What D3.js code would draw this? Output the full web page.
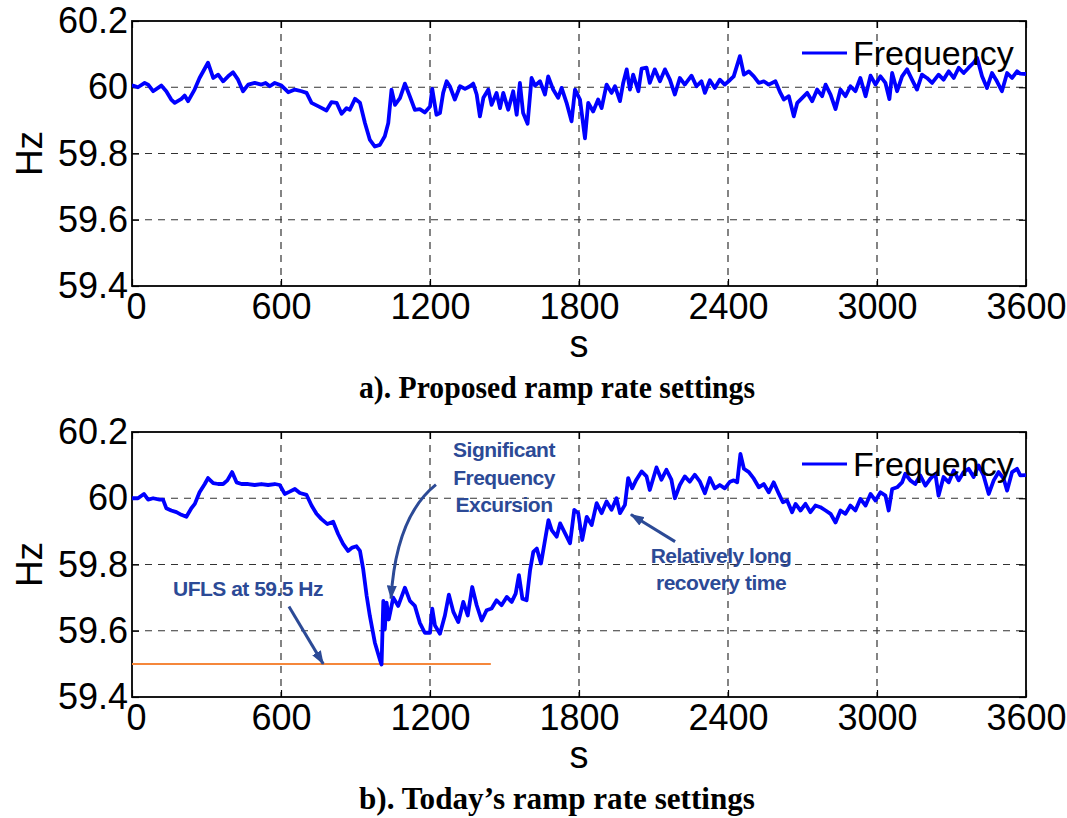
<!DOCTYPE html>
<html>
<head>
<meta charset="utf-8">
<script src="https://cdn.jsdelivr.net/npm/d3@7"></script>
<style>
  body { margin: 0; background: #fff; }
  svg { display: block; }
</style>
</head>
<body>
<div id="chart"></div>
<script>
// axis ticks
const xTicks = [0, 600, 1200, 1800, 2400, 3000, 3600];
const yTicks = [59.4, 59.6, 59.8, 60, 60.2];

// a) proposed ramp rate settings: [seconds, Hz]
const freqProposed = [
  [0,60.005],[4,60.005],[24,60.000],[51,60.013],[65,60.008],[85,59.988],[118,60.005],[138,59.988],
  [158,59.963],[172,59.953],[199,59.965],[212,59.975],[226,59.958],[252,59.993],[272,60.028],[306,60.074],
  [327,60.028],[347,60.038],[367,60.018],[387,60.033],[407,60.045],[427,60.023],[447,59.988],[468,60.008],
  [494,60.013],[521,60.008],[538,60.013],[555,60.003],[575,60.013],[602,60.005],[629,59.985],[656,59.993],
  [683,59.988],[703,59.983],[723,59.953],[757,59.940],[783,59.930],[803,59.955],[824,59.953],[844,59.920],
  [864,59.937],[877,59.932],[898,59.965],[918,59.953],[938,59.892],[958,59.841],[978,59.821],[998,59.826],
  [1018,59.852],[1032,59.892],[1045,59.993],[1059,59.947],[1079,59.967],[1099,60.011],[1119,59.972],[1139,59.932],
  [1159,59.934],[1179,59.924],[1200,59.942],[1209,59.995],[1226,59.917],[1240,59.922],[1253,59.983],[1267,60.018],
  [1280,60.003],[1300,59.963],[1321,60.003],[1341,59.995],[1361,60.003],[1374,60.011],[1388,59.978],[1401,59.912],
  [1415,59.968],[1435,59.993],[1448,59.947],[1468,59.983],[1482,59.937],[1495,59.983],[1515,59.932],[1535,59.988],
  [1549,59.917],[1562,60.013],[1575,59.922],[1593,59.890],[1609,60.028],[1623,60.005],[1643,60.018],[1663,59.978],
  [1676,60.033],[1696,59.993],[1716,59.968],[1730,59.998],[1750,59.953],[1770,59.897],[1784,59.993],[1804,59.963],
  [1824,59.846],[1837,59.953],[1857,59.927],[1877,59.963],[1891,59.937],[1911,60.008],[1931,59.983],[1945,60.003],
  [1965,59.958],[1978,60.013],[1992,60.054],[2005,59.993],[2018,60.038],[2039,59.988],[2052,60.056],[2072,60.059],
  [2085,60.013],[2105,60.054],[2126,60.018],[2146,60.054],[2166,60.023],[2186,59.978],[2206,60.028],[2226,60.008],
  [2253,60.035],[2273,60.003],[2293,60.018],[2307,59.983],[2327,60.021],[2347,59.998],[2367,60.023],[2387,60.008],
  [2408,60.022],[2423,60.033],[2448,60.094],[2464,60.038],[2484,60.048],[2504,60.033],[2524,60.013],[2544,60.018],
  [2564,60.008],[2591,60.018],[2611,59.983],[2625,59.963],[2645,59.973],[2665,59.912],[2679,59.953],[2699,59.968],
  [2719,59.983],[2739,59.958],[2759,59.993],[2779,59.973],[2793,60.008],[2813,59.978],[2833,59.934],[2853,59.993],
  [2873,59.973],[2893,60.003],[2913,59.988],[2933,60.028],[2954,59.973],[2974,60.035],[2994,60.008],[3014,60.033],
  [3034,60.013],[3050,59.964],[3061,60.043],[3081,59.988],[3101,60.033],[3121,60.054],[3141,60.023],[3161,59.993],
  [3181,60.038],[3201,60.028],[3222,60.013],[3248,60.038],[3268,60.023],[3289,60.048],[3309,60.028],[3329,60.059],
  [3349,60.043],[3369,60.059],[3389,60.074],[3403,60.089],[3423,60.033],[3443,59.998],[3463,60.043],[3483,60.018],
  [3503,59.988],[3524,60.043],[3544,60.028],[3564,60.048],[3577,60.041],[3600,60.040]
];

// b) today's ramp rate settings: [seconds, Hz]
const freqToday = [
  [0,60.000],[4,60.000],[24,60.000],[48,60.013],[65,59.996],[85,60.000],[111,59.996],[125,59.996],
  [138,59.970],[158,59.963],[179,59.958],[199,59.950],[219,59.944],[239,59.970],[253,59.983],[272,60.018],
  [293,60.043],[306,60.061],[327,60.046],[347,60.043],[367,60.043],[384,60.054],[403,60.079],[421,60.048],
  [441,60.043],[468,60.043],[494,60.040],[521,60.043],[548,60.040],[575,60.043],[595,60.040],[615,60.013],
  [635,60.020],[656,60.028],[676,60.016],[703,60.010],[723,59.978],[743,59.953],[763,59.937],[787,59.922],
  [810,59.929],[830,59.892],[850,59.862],[870,59.841],[887,59.851],[904,59.855],[918,59.841],[931,59.786],
  [945,59.705],[958,59.644],[978,59.564],[998,59.513],[1005,59.498],[1012,59.690],[1018,59.604],[1025,59.685],
  [1034,59.634],[1052,59.700],[1072,59.675],[1099,59.730],[1119,59.690],[1139,59.675],[1159,59.624],[1179,59.594],
  [1200,59.594],[1209,59.667],[1220,59.616],[1240,59.591],[1260,59.646],[1276,59.709],[1294,59.657],[1314,59.626],
  [1334,59.687],[1352,59.646],[1370,59.732],[1388,59.677],[1408,59.631],[1428,59.662],[1448,59.667],[1468,59.692],
  [1488,59.677],[1509,59.702],[1529,59.687],[1545,59.712],[1558,59.768],[1572,59.697],[1589,59.692],[1603,59.783],
  [1616,59.838],[1630,59.848],[1647,59.803],[1661,59.864],[1677,59.934],[1690,59.904],[1710,59.884],[1724,59.924],
  [1744,59.894],[1764,59.864],[1781,59.965],[1797,59.955],[1813,59.874],[1831,59.944],[1851,59.919],[1871,59.985],
  [1891,59.955],[1911,59.990],[1931,59.965],[1951,60.000],[1965,59.955],[1985,59.980],[1998,60.061],[2014,60.030],
  [2031,60.056],[2052,60.081],[2072,60.066],[2085,60.025],[2112,60.093],[2132,60.056],[2152,60.086],[2172,60.056],
  [2186,60.000],[2206,60.040],[2226,60.066],[2246,60.050],[2266,60.071],[2287,60.050],[2307,60.015],[2327,60.061],
  [2347,60.030],[2367,60.040],[2387,60.030],[2408,60.050],[2423,60.054],[2437,60.048],[2450,60.134],[2464,60.089],
  [2484,60.079],[2504,60.059],[2524,60.033],[2544,60.043],[2564,60.018],[2584,60.048],[2605,60.013],[2621,59.988],
  [2638,59.993],[2658,59.958],[2672,59.983],[2692,59.963],[2712,59.983],[2732,59.958],[2752,59.978],[2772,59.973],
  [2793,59.963],[2813,59.953],[2833,59.927],[2853,59.963],[2873,59.953],[2893,59.978],[2913,59.963],[2933,59.998],
  [2954,59.978],[2974,60.013],[2994,59.993],[3014,60.018],[3034,60.008],[3047,59.963],[3061,60.028],[3081,60.033],
  [3101,60.048],[3114,60.074],[3134,60.054],[3154,60.043],[3174,60.069],[3195,60.038],[3215,60.059],[3235,60.074],
  [3248,60.008],[3268,60.064],[3289,60.048],[3309,60.084],[3329,60.054],[3349,60.079],[3369,60.089],[3389,60.064],
  [3409,60.099],[3429,60.069],[3450,60.013],[3470,60.054],[3490,60.079],[3510,60.059],[3524,60.023],[3544,60.079],
  [3564,60.089],[3577,60.069],[3600,60.070]
];

// UFLS threshold line (Hz) and its extent in seconds
const uflsLevel = 59.5;
const uflsSpan = [0, 1445];

const width = 1067, height = 818;
const plotLeft = 132, plotRight = 1026, plotH = 265;
const annoColor = "#2c4a96";
const font = "'Liberation Sans', Arial, sans-serif";

const svg = d3.select("#chart").append("svg")
  .attr("width", width)
  .attr("height", height)
  .style("font-family", font);

// arrow head marker
svg.append("defs").append("marker")
  .attr("id", "arrow")
  .attr("markerUnits", "userSpaceOnUse")
  .attr("markerWidth", 14).attr("markerHeight", 10)
  .attr("refX", 13).attr("refY", 5)
  .attr("orient", "auto")
  .append("path")
  .attr("d", "M0,0 L14,5 L0,10 Z")
  .attr("fill", annoColor);

const x = d3.scaleLinear().domain([0, 3600]).range([plotLeft, plotRight]);

function drawPanel(top, caption) {
  const y = d3.scaleLinear().domain([59.4, 60.2]).range([top + plotH, top]);
  const g = svg.append("g");

  // dashed grid
  g.selectAll(".vgrid")
    .data(xTicks.slice(1, -1))
    .enter().append("line")
    .attr("x1", d => x(d)).attr("x2", d => x(d))
    .attr("y1", top).attr("y2", top + plotH)
    .attr("stroke", "#333").attr("stroke-width", 1.2)
    .attr("stroke-dasharray", "7,6");

  g.selectAll(".hgrid")
    .data(yTicks.slice(1, -1))
    .enter().append("line")
    .attr("x1", plotLeft).attr("x2", plotRight)
    .attr("y1", d => y(d)).attr("y2", d => y(d))
    .attr("stroke", "#333").attr("stroke-width", 1.2)
    .attr("stroke-dasharray", "7,6");

  // axes (ticks pointing inward)
  const left = g.append("g")
    .attr("transform", `translate(${plotLeft},0)`)
    .call(d3.axisLeft(y).tickValues(yTicks).tickFormat(d3.format("~g"))
      .tickSizeInner(-7).tickSizeOuter(0).tickPadding(4));
  const bottom = g.append("g")
    .attr("transform", `translate(0,${top + plotH})`)
    .call(d3.axisBottom(x).tickValues(xTicks).tickFormat(d3.format("d"))
      .tickSizeInner(-7).tickSizeOuter(0).tickPadding(7));
  const topAx = g.append("g")
    .attr("transform", `translate(0,${top})`)
    .call(d3.axisTop(x).tickValues(xTicks).tickFormat("")
      .tickSizeInner(-7).tickSizeOuter(0));
  const rightAx = g.append("g")
    .attr("transform", `translate(${plotRight},0)`)
    .call(d3.axisRight(y).tickValues(yTicks).tickFormat("")
      .tickSizeInner(-7).tickSizeOuter(0));

  [left, bottom, topAx, rightAx].forEach(a => {
    a.select(".domain").remove();
    a.selectAll("line").attr("stroke", "#000").attr("stroke-width", 1.2);
    a.selectAll("text")
      .style("font-family", font)
      .style("font-size", "36px")
      .attr("fill", "#000");
  });
  // first x label sits a bit right of the corner, as in the original
  bottom.selectAll(".tick text").filter(d => d === 0).attr("dx", "4");

  // frame
  g.append("rect")
    .attr("x", plotLeft).attr("y", top)
    .attr("width", plotRight - plotLeft).attr("height", plotH)
    .attr("fill", "none").attr("stroke", "#000").attr("stroke-width", 1.8);

  // axis titles
  g.append("text")
    .attr("transform", `translate(42,${top + plotH / 2}) rotate(-90)`)
    .attr("text-anchor", "middle")
    .style("font-size", "37px")
    .text("Hz");

  g.append("text")
    .attr("x", (plotLeft + plotRight) / 2)
    .attr("y", top + plotH + 71)
    .attr("text-anchor", "middle")
    .style("font-size", "38px")
    .text("s");

  // caption
  g.append("text")
    .attr("x", 557)
    .attr("y", top + plotH + 112)
    .attr("text-anchor", "middle")
    .attr("textLength", 396)
    .attr("lengthAdjust", "spacingAndGlyphs")
    .style("font-family", "'Liberation Serif', 'Times New Roman', serif")
    .style("font-weight", "bold")
    .style("font-size", "31px")
    .text(caption);

  return { g, y };
}

function drawSeries(panel, data) {
  const line = d3.line()
    .x(d => x(d[0]))
    .y(d => panel.y(d[1]));
  panel.g.append("path")
    .datum(data)
    .attr("d", line)
    .attr("fill", "none")
    .attr("stroke", "#0000ff")
    .attr("stroke-width", 3.8)
    .attr("stroke-linejoin", "round");
}

function drawLegend(panel, top) {
  panel.g.append("line")
    .attr("x1", 802).attr("x2", 847)
    .attr("y1", top + 32).attr("y2", top + 32)
    .attr("stroke", "#0000ff").attr("stroke-width", 3);
  panel.g.append("text")
    .attr("x", 853).attr("y", top + 44)
    .style("font-size", "34px")
    .text("Frequency");
}

// ---- panel a ----
const topA = 21;
const pa = drawPanel(topA, "a).  Proposed ramp rate settings");
drawSeries(pa, freqProposed);
drawLegend(pa, topA);

// ---- panel b ----
const topB = 432;
const pb = drawPanel(topB, "b).  Today\u2019s ramp rate settings");

// UFLS line
pb.g.append("line")
  .attr("x1", x(uflsSpan[0])).attr("x2", x(uflsSpan[1]))
  .attr("y1", pb.y(uflsLevel)).attr("y2", pb.y(uflsLevel))
  .attr("stroke", "#f5873b").attr("stroke-width", 2);

drawSeries(pb, freqToday);
drawLegend(pb, topB);

// annotations (positions in data units: seconds, Hz)
const annoText = pb.g.append("g")
  .attr("fill", annoColor)
  .style("font-weight", "bold")
  .style("font-size", "21px")
  .style("letter-spacing", "-0.5px");

annoText.append("text")
  .attr("x", x(165)).attr("y", pb.y(59.706))
  .text("UFLS at 59.5 Hz");

[["Significant", 60.126], ["Frequency", 60.040], ["Excursion", 59.960]].forEach(([t, v]) => {
  annoText.append("text")
    .attr("x", x(1498)).attr("y", pb.y(v))
    .attr("text-anchor", "middle")
    .text(t);
});

[["Relatively long", 59.806], ["recovery time", 59.724]].forEach(([t, v]) => {
  annoText.append("text")
    .attr("x", x(2372)).attr("y", pb.y(v))
    .attr("text-anchor", "middle")
    .text(t);
});

// arrows
function arrow(p0, p1) {
  pb.g.append("line")
    .attr("x1", x(p0[0])).attr("y1", pb.y(p0[1]))
    .attr("x2", x(p1[0])).attr("y2", pb.y(p1[1]))
    .attr("stroke", annoColor).attr("stroke-width", 3)
    .attr("marker-end", "url(#arrow)");
}
arrow([632, 59.673], [770, 59.5]);
arrow([2187, 59.869], [2009, 59.951]);

const curve = d3.path();
curve.moveTo(x(1224), pb.y(60.041));
curve.quadraticCurveTo(x(1063), pb.y(59.945), x(1043), pb.y(59.697));
pb.g.append("path")
  .attr("d", curve.toString())
  .attr("fill", "none")
  .attr("stroke", annoColor).attr("stroke-width", 3)
  .attr("marker-end", "url(#arrow)");
</script>
</body>
</html>
